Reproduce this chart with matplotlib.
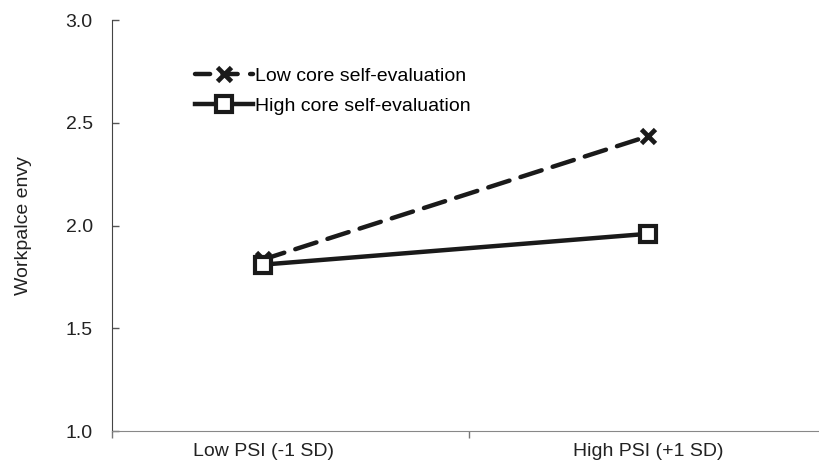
import matplotlib
matplotlib.use('Agg')
import matplotlib.pyplot as plt

plt.rcParams['font.family'] = ['Liberation Sans', 'DejaVu Sans']

categories = ['Low PSI (-1 SD)', 'High PSI (+1 SD)']
low_cse = [1.835, 2.435]
high_cse = [1.81, 1.96]
series_names = ['Low core self-evaluation', 'High core self-evaluation']
y_ticks = [1.0, 1.5, 2.0, 2.5, 3.0]

fs = 14

fig = plt.figure(figsize=(8.19, 4.69), dpi=100)
ax = fig.add_axes([0.137, 0.081, 0.863, 0.876])

x = [0, 1]
l1, = ax.plot(x, low_cse, color='#1a1a1a', lw=3.2, marker='x', ms=10, mew=3.4,
              label=series_names[0], solid_capstyle='round', dash_capstyle='round')
l1.set_dashes((5.0, 2.6))
ax.plot(x, high_cse, color='#1a1a1a', lw=3.2, marker='s', ms=11, mew=3,
        mfc='white', mec='#1a1a1a', label=series_names[1])

ax.set_xlim(-0.392, 1.444)
ax.set_ylim(1.0, 3.0)
ax.set_yticks(y_ticks)
ax.set_yticklabels([f'{v:.1f}' for v in y_ticks], fontsize=fs, color='#222222')
ax.tick_params(axis='y', direction='in', length=5, width=1, color='#555555', pad=14)

ax.set_xticks([-0.392, 0.535])
ax.set_xticklabels(['', ''])
ax.tick_params(axis='x', direction='out', length=5, width=1, color='#777777')
for xi, lab in zip(x, categories):
    ax.text(xi, -0.03, lab, transform=ax.get_xaxis_transform(), ha='center', va='top',
            fontsize=fs, color='#222222')

ax.set_ylabel('Workpalce envy', fontsize=fs, color='#222222', labelpad=24)

for s in ['top', 'right']:
    ax.spines[s].set_visible(False)
ax.spines['left'].set_color('#444444')
ax.spines['bottom'].set_color('#888888')

leg = ax.legend(loc='upper left', bbox_to_anchor=(0.117, 0.885), frameon=False, fontsize=fs,
                handlelength=3.0, handletextpad=0.1, labelspacing=0.65, borderaxespad=0,
                borderpad=0)
leg.get_lines()[0].set_dashes((3.4, 2.8))

fig.savefig('out.png', dpi=100)
